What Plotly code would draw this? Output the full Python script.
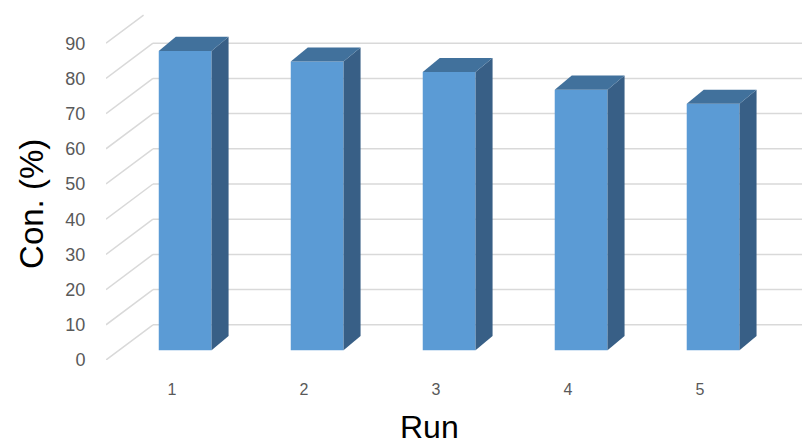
import plotly.graph_objects as go

# ── Data ───────────────────────────────────────────────────────────────────────
runs = [1, 2, 3, 4, 5]
run_labels = ["1", "2", "3", "4", "5"]
conversion = [85, 82, 79, 74, 70]
y_ticks = [0, 10, 20, 30, 40, 50, 60, 70, 80, 90]

# ── Pseudo-3D geometry (in axis units) ─────────────────────────────────────────
WALL_DX, WALL_DY = 0.356, 10.0      # front plane -> back wall shift
BAR_FRONT = 0.28                    # depth of bar front face (fraction of wall)
BAR_DX, BAR_DY = 0.129, 4.0         # bar depth shift
BAR_W = 0.40

FRONT = "#5b9bd5"
TOP = "#41719c"
SIDE = "#385f86"
GRID = "#d9d9d9"

X_MIN, X_MAX = 0.5, 5.773
Y_MIN, Y_MAX = 0, 102.27

fig = go.Figure()

# back wall gridlines + side wall diagonals, behind everything
shapes = []
for v in y_ticks:
    top = v + WALL_DY > 95
    depth = 0.8 if top else 1.0
    shapes.append(dict(type="line", xref="x", yref="y", layer="below",
                       x0=X_MIN, y0=v,
                       x1=X_MIN + WALL_DX * depth, y1=v + WALL_DY * depth,
                       line=dict(color=GRID, width=1.5)))
    if not top:
        shapes.append(dict(type="line", xref="x", yref="y", layer="below",
                           x0=X_MIN + WALL_DX, y0=v + WALL_DY, x1=X_MAX, y1=v + WALL_DY,
                           line=dict(color=GRID, width=1.5)))

# bar front faces
base = BAR_FRONT * WALL_DY
x_bar = [r + BAR_FRONT * WALL_DX for r in runs]
fig.add_trace(go.Bar(
    x=x_bar, y=conversion, base=base, width=BAR_W,
    marker=dict(color=FRONT, line=dict(width=0)),
    hoverinfo="skip",
))

# side and top faces
for xc, v in zip(x_bar, conversion):
    xl, xr = xc - BAR_W / 2, xc + BAR_W / 2
    yb, yt = base, base + v
    fig.add_trace(go.Scatter(
        x=[xr, xr + BAR_DX, xr + BAR_DX, xr, xr],
        y=[yb, yb + BAR_DY, yt + BAR_DY, yt, yb],
        fill="toself", fillcolor=SIDE, mode="lines", line=dict(width=0),
        hoverinfo="skip",
    ))
    fig.add_trace(go.Scatter(
        x=[xl, xr, xr + BAR_DX, xl + BAR_DX, xl],
        y=[yt, yt, yt + BAR_DY, yt + BAR_DY, yt],
        fill="toself", fillcolor=TOP, mode="lines", line=dict(width=0),
        hoverinfo="skip",
    ))

fig.update_layout(
    width=802, height=446,
    margin=dict(l=106, r=0, t=0, b=86),
    plot_bgcolor="#ffffff",
    paper_bgcolor="#ffffff",
    showlegend=False,
    shapes=shapes,
    font=dict(family="Arial, Liberation Sans, sans-serif", color="#595959"),
    xaxis=dict(
        range=[X_MIN, X_MAX], showgrid=False, zeroline=False, showline=False,
        tickvals=runs, ticktext=run_labels,
        ticks="outside", ticklen=15, tickcolor="rgba(0,0,0,0)",
        tickfont=dict(size=16, color="#595959"),
    ),
    yaxis=dict(
        range=[Y_MIN, Y_MAX], showgrid=False, zeroline=False, showline=False,
        tickvals=y_ticks,
        ticks="outside", ticklen=16, tickcolor="rgba(0,0,0,0)",
        tickfont=dict(size=18, color="#595959"),
    ),
    annotations=[
        dict(text="Con. (%)", textangle=-90, xref="paper", yref="paper",
             x=-0.108, y=0.433, xanchor="center", yanchor="middle",
             showarrow=False, font=dict(size=33, color="#000000")),
        dict(text="Run", xref="x", yref="paper",
             x=2.95, y=-0.187, xanchor="center", yanchor="middle",
             showarrow=False, font=dict(size=32, color="#000000")),
    ],
)

fig.write_html("out.html", config={"displayModeBar": False},
               post_script="document.body.style.margin='0';")
